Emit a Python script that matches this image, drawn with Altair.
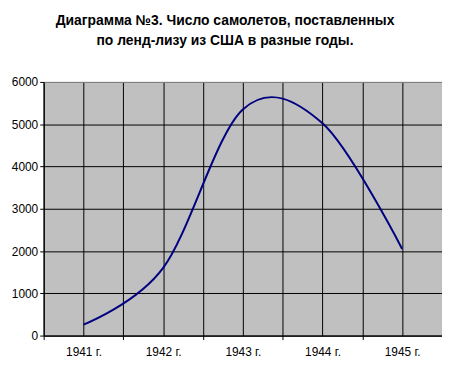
import altair as alt
import pandas as pd

years = ["1941 г.", "1942 г.", "1943 г.", "1944 г.", "1945 г."]
planes = [260, 1600, 5350, 5020, 2050]
y_ticks = [0, 1000, 2000, 3000, 4000, 5000, 6000]
title_lines = ["Диаграмма №3. Число самолетов, поставленных",
               "по ленд-лизу из США в разные годы."]

df = pd.DataFrame({"idx": list(range(len(years))), "year": years, "planes": planes})

n = len(years)
x_vals = [i * 0.5 - 0.5 for i in range(2 * n + 1)]
label_arr = "[" + ",".join("'" + y + "'" for y in years) + "]"
label_expr = f"datum.value % 1 === 0 ? {label_arr}[datum.value] : ''"

FONT = "Liberation Sans"

x_axis = alt.Axis(
    values=x_vals,
    labelExpr=label_expr,
    title=None,
    grid=True,
    gridColor={"condition": {"test": f"datum.value >= {n - 0.5}", "value": "#808080"}, "value": "black"},
    gridWidth=1,
    tickOpacity={"condition": {"test": "datum.value % 1 === 0", "value": 0}, "value": 1},
    tickColor="black",
    tickSize=4,
    domainColor="black",
    labelPadding=7,
    labelFont=FONT,
    labelFontSize=12,
    labelColor="black",
    labelOverlap=False,
    labelFlush=False,
)

y_axis = alt.Axis(
    values=y_ticks,
    format="d",
    title=None,
    grid=True,
    gridColor={"condition": {"test": "datum.value >= 6000", "value": "#808080"}, "value": "black"},
    gridWidth=1,
    tickColor="black",
    tickSize=4,
    domainColor="black",
    labelPadding=2,
    labelFont=FONT,
    labelFontSize=12,
    labelColor="black",
    labelOverlap=False,
)

chart = alt.Chart(df).mark_line(
    color="#000080", strokeWidth=2, interpolate="cardinal", tension=0
).encode(
    x=alt.X("idx:Q", scale=alt.Scale(domain=[-0.5, n - 0.5], nice=False, zero=False), axis=x_axis),
    y=alt.Y("planes:Q", scale=alt.Scale(domain=[0, 6000], nice=False), axis=y_axis),
).properties(
    width=402,
    height=256,
    background="white",
    padding={"left": 36, "top": 73, "right": 0, "bottom": 22},
    autosize=alt.AutoSizeParams(type="none"),
    title=alt.TitleParams(
        text=title_lines,
        font=FONT,
        fontSize=14,
        fontWeight="bold",
        color="black",
        anchor="middle",
        dx=-18,
        offset=28,
        lineHeight=20,
    ),
).configure_view(
    fill="#c0c0c0", stroke="#808080", strokeWidth=1
)

chart.save("out.html", embed_options={"renderer": "svg", "actions": False})
